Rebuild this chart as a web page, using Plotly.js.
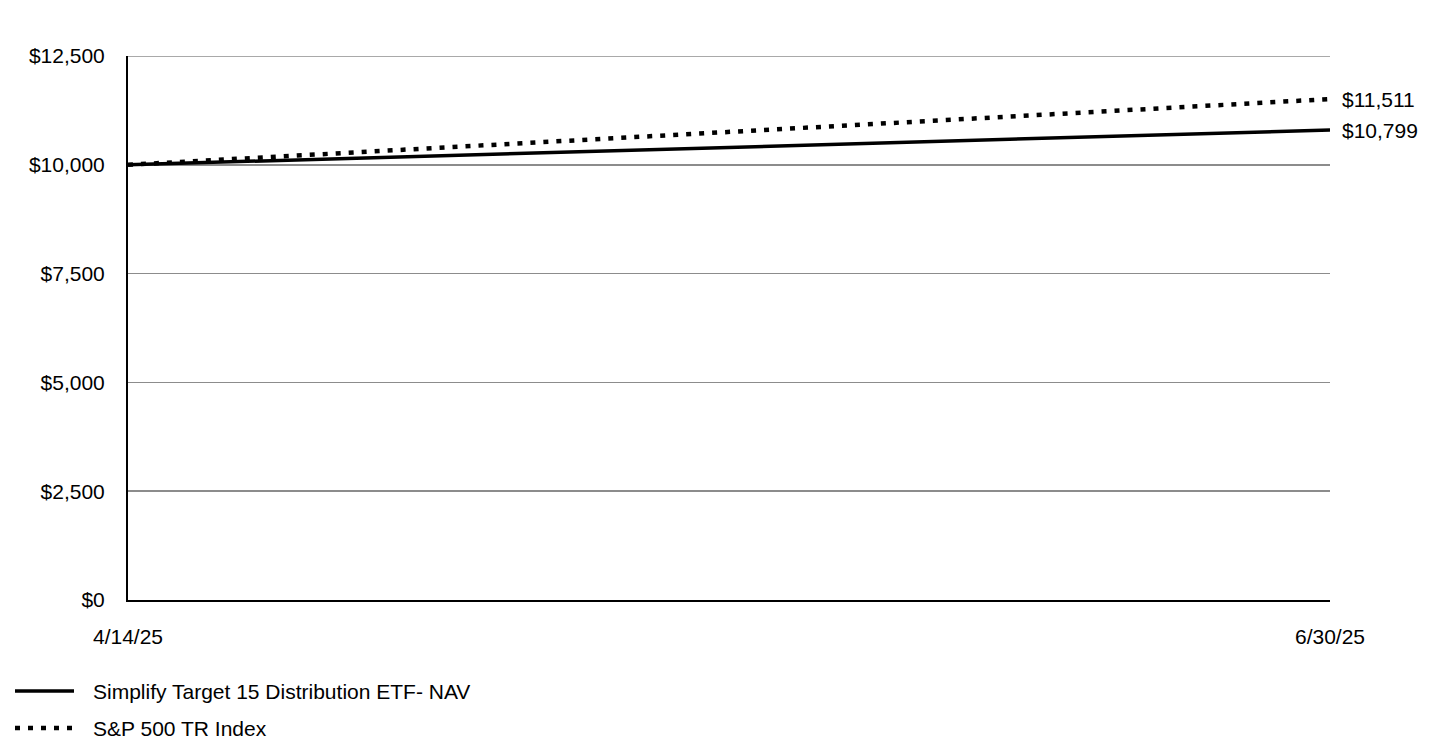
<!DOCTYPE html>
<html>
<head>
<meta charset="utf-8">
<script src="https://cdn.plot.ly/plotly-3.0.1.min.js"></script>
<style>html,body{margin:0;padding:0;background:#fff;}#chart{width:1440px;height:744px;}</style>
</head>
<body>
<div id="chart"></div>
<script>
const dates = ['4/14/25', '6/30/25'];
const fundName = 'Simplify Target 15 Distribution ETF- NAV';
const indexName = 'S&P 500 TR Index';
const fundValues = [10000, 10799];
const indexValues = [10000, 11511];
const yTicks = [0, 2500, 5000, 7500, 10000, 12500];

const FONT = 'Liberation Sans, Arial, sans-serif';
const FS = 21;
const fmt = v => '$' + v.toLocaleString('en-US');

const traces = [
  {x: dates, y: indexValues, name: indexName, type: 'scatter', mode: 'lines',
   line: {color: '#000', width: 4.5, dash: '5px,8px'}, showlegend: false, hoverinfo: 'skip'},
  {x: dates, y: fundValues, name: fundName, type: 'scatter', mode: 'lines',
   line: {color: '#000', width: 3.5}, showlegend: false, hoverinfo: 'skip'}
];

const last = dates.length - 1;
const annotations = [
  {x: dates[last], y: indexValues[last], xref: 'x', yref: 'y', text: fmt(indexValues[last]),
   showarrow: false, xanchor: 'left', yanchor: 'middle', xshift: 10, font: {family: FONT, size: FS, color: '#000'}},
  {x: dates[last], y: fundValues[last], xref: 'x', yref: 'y', text: fmt(fundValues[last]),
   showarrow: false, xanchor: 'left', yanchor: 'middle', xshift: 10, font: {family: FONT, size: FS, color: '#000'}}
];

// custom legend below chart (paper coords)
const W = 1202, H = 544, L = 128, T = 56;
const px = x => (x - L) / W;
const py = y => (T + H - y) / H;
const legendItems = [
  {name: fundName, dash: 'solid', width: 3.5, y: 691},
  {name: indexName, dash: '5px,8px', width: 4.5, y: 728}
];
const shapes = [
  {type: 'line', xref: 'paper', yref: 'y', x0: 0, x1: 1, y0: yTicks[yTicks.length - 1], y1: yTicks[yTicks.length - 1],
   line: {color: '#8c8c8c', width: 1.5}, layer: 'below'}
];
legendItems.forEach(it => {
  shapes.push({type: 'line', xref: 'paper', yref: 'paper', x0: px(15), x1: px(74), y0: py(it.y), y1: py(it.y),
    line: {color: '#000', width: it.width, dash: it.dash}});
  annotations.push({xref: 'paper', yref: 'paper', x: px(91), y: py(it.y), text: it.name, showarrow: false,
    xanchor: 'left', yanchor: 'middle', font: {family: FONT, size: FS, color: '#000'}});
});

const layout = {
  width: 1440, height: 744,
  margin: {l: L, r: 110, t: T, b: 144},
  paper_bgcolor: '#fff', plot_bgcolor: '#fff',
  font: {family: FONT, size: FS, color: '#000'},
  showlegend: false,
  xaxis: {type: 'category', range: [0, 1], showgrid: false, zeroline: false,
    showline: true, linecolor: '#000', linewidth: 2, ticks: '', ticklabelstandoff: 17,
    tickfont: {family: FONT, size: FS, color: '#000'}, fixedrange: true},
  yaxis: {range: [0, 12500], tickvals: yTicks, ticktext: yTicks.map(fmt),
    showgrid: true, gridcolor: '#8c8c8c', gridwidth: 1.5, zeroline: false,
    showline: true, linecolor: '#000', linewidth: 2, ticks: '', ticklabelstandoff: 17,
    tickfont: {family: FONT, size: FS, color: '#000'}, fixedrange: true},
  shapes: shapes,
  annotations: annotations
};

Plotly.newPlot('chart', traces, layout, {staticPlot: true, displayModeBar: false});
</script>
</body>
</html>
